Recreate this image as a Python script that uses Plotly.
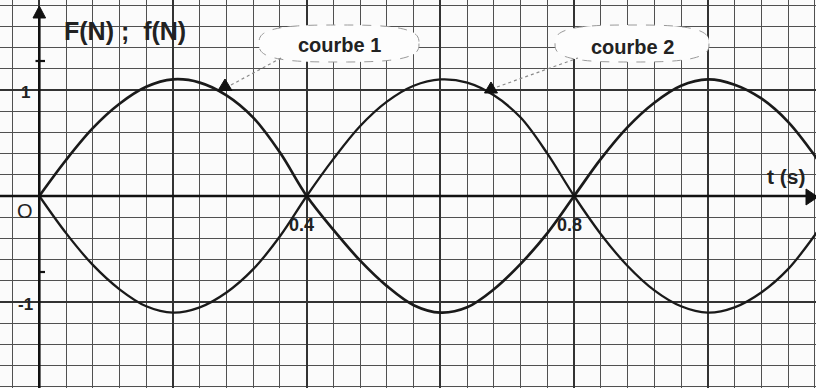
import math
import plotly.graph_objects as go

# ---- data ----
t_s = [0.00, 0.04, 0.08, 0.12, 0.16, 0.20, 0.24, 0.28, 0.32, 0.36, 0.40,
       0.44, 0.48, 0.52, 0.56, 0.60, 0.64, 0.68, 0.72, 0.76, 0.80,
       0.84, 0.88, 0.92, 0.96, 1.00, 1.04, 1.08, 1.12, 1.16, 1.20]
courbe1 = [0, 0.34, 0.64, 0.87, 1.03, 1.10, 1.07, 0.95, 0.74, 0.41, 0,
           -0.32, -0.61, -0.85, -1.03, -1.10, -1.05, -0.88, -0.64, -0.35, 0,
           0.35, 0.65, 0.88, 1.04, 1.10, 1.05, 0.92, 0.70, 0.38, 0]
courbe2 = [0, -0.35, -0.65, -0.88, -1.04, -1.10, -1.05, -0.91, -0.69, -0.38, 0,
           0.35, 0.66, 0.89, 1.04, 1.10, 1.07, 0.95, 0.74, 0.40, 0,
           -0.36, -0.66, -0.89, -1.04, -1.10, -1.05, -0.91, -0.69, -0.37, 0]
x_tick_labels = ["0.4", "0.8"]
x_tick_values = [0.4, 0.8]
y_tick_labels = ["1", "-1"]
y_tick_values = [1, -1]
series_names = ["courbe 1", "courbe 2"]

W, H = 816, 388
X_RANGE = [-0.0588, 1.1618]
Y_RANGE = [-1.811, 1.849]
INK = "#1a1a1a"
FONT = "Liberation Sans, Arial, sans-serif"


def px(x):
    return x / W


def py(y):
    return 1 - y / H


def poly_path(pts):
    return "M " + " L ".join(f"{px(a):.5f},{py(b):.5f}" for a, b in pts) + " Z"


def cloud_path(x0, x1, y0, y1, n=3.0, k=90):
    cx, cy, a, b = (x0 + x1) / 2, (y0 + y1) / 2, (x1 - x0) / 2, (y1 - y0) / 2
    pts = []
    for i in range(k):
        th = 2 * math.pi * i / k
        c, s = math.cos(th), math.sin(th)
        pts.append((cx + a * math.copysign(abs(c) ** (2 / n), c),
                    cy + b * math.copysign(abs(s) ** (2 / n), s)))
    return poly_path(pts)


fig = go.Figure()

fig.add_trace(go.Scatter(x=t_s, y=courbe2, mode="lines", name=series_names[1],
                         line=dict(color=INK, width=2.3, shape="spline", smoothing=1.0),
                         hoverinfo="skip"))
fig.add_trace(go.Scatter(x=t_s, y=courbe1, mode="lines", name=series_names[0],
                         line=dict(color=INK, width=2.7, shape="spline", smoothing=1.0),
                         hoverinfo="skip"))

shapes = []
# axes
shapes.append(dict(type="line", xref="x", yref="paper", x0=0, x1=0, y0=0, y1=py(16),
                   line=dict(color="#111", width=2.6), layer="above"))
shapes.append(dict(type="line", xref="paper", yref="y", x0=0, x1=px(809), y0=0, y1=0,
                   line=dict(color="#111", width=2.6), layer="above"))
# arrow heads
shapes.append(dict(type="path", xref="paper", yref="paper",
                   path=poly_path([(33, 18), (39.3, 6), (45.6, 18)]),
                   fillcolor="#111", line=dict(color="#111", width=1), layer="above"))
shapes.append(dict(type="path", xref="paper", yref="paper",
                   path=poly_path([(806, 189), (818, 197), (806, 205)]),
                   fillcolor="#111", line=dict(color="#111", width=1), layer="above"))
# small ticks on the vertical axis
shapes.append(dict(type="line", xref="paper", yref="paper", x0=px(35.5), x1=px(45), y0=py(61), y1=py(61),
                   line=dict(color="#111", width=2.2), layer="above"))
shapes.append(dict(type="line", xref="paper", yref="paper", x0=px(38), x1=px(45), y0=py(272), y1=py(272),
                   line=dict(color="#111", width=2.2), layer="above"))
# callout clouds
shapes.append(dict(type="path", xref="paper", yref="paper", path=cloud_path(259, 419, 25, 62),
                   fillcolor="#fdfdfd", line=dict(color="#9a9a9a", width=1, dash="dash"), layer="above"))
shapes.append(dict(type="path", xref="paper", yref="paper", path=cloud_path(555, 709, 25, 62),
                   fillcolor="#fdfdfd", line=dict(color="#9a9a9a", width=1, dash="dash"), layer="above"))
# dashed leader lines
shapes.append(dict(type="line", xref="paper", yref="paper", x0=px(231), y0=py(85), x1=px(283), y1=py(57),
                   line=dict(color="#8a8a8a", width=1.2, dash="dot"), layer="above"))
shapes.append(dict(type="line", xref="paper", yref="paper", x0=px(497), y0=py(87), x1=px(578), y1=py(58),
                   line=dict(color="#8a8a8a", width=1.2, dash="dot"), layer="above"))
# arrow-head triangles on the curves
shapes.append(dict(type="path", xref="paper", yref="paper",
                   path=poly_path([(218, 90.5), (225, 79), (232, 90.5)]),
                   fillcolor="#111", line=dict(color="#111", width=1), layer="above"))
shapes.append(dict(type="path", xref="paper", yref="paper",
                   path=poly_path([(484.5, 93), (491, 82), (497.5, 93)]),
                   fillcolor="#111", line=dict(color="#111", width=1), layer="above"))

ann = []


def label(text, x, y, size, bold=True, xanchor="center"):
    ann.append(dict(text=f"<b>{text}</b>" if bold else text, xref="paper", yref="paper",
                    x=px(x), y=py(y), xanchor=xanchor, yanchor="middle", showarrow=False,
                    font=dict(family=FONT, size=size, color="#222")))


label("F(N) ;&nbsp; f(N)", 62, 31, 25, xanchor="left")
label(series_names[0], 339, 45, 20)
label(series_names[1], 632, 47, 20)
label("t (s)", 786, 177, 21)
label("O", 25, 211, 20, bold=False)
# value labels on the axes, positioned through the axes' scales
for txt, v in zip(x_tick_labels, x_tick_values):
    ann.append(dict(text=f"<b>{txt}</b>", xref="x", yref="y", x=v, y=0, xshift=-5, yshift=-29,
                    xanchor="center", yanchor="middle", showarrow=False,
                    font=dict(family=FONT, size=18, color="#222")))
for txt, v in zip(y_tick_labels, y_tick_values):
    ann.append(dict(text=f"<b>{txt}</b>", xref="x", yref="y", x=0, y=v, xshift=-14, yshift=-2,
                    xanchor="center", yanchor="middle", showarrow=False,
                    font=dict(family=FONT, size=17, color="#222")))

fig.update_layout(
    width=W, height=H,
    margin=dict(l=0, r=0, t=0, b=0, pad=0),
    paper_bgcolor="#fbfbfb", plot_bgcolor="#fbfbfb",
    showlegend=False,
    shapes=shapes, annotations=ann,
    xaxis=dict(range=X_RANGE, tick0=0, dtick=0.2, showgrid=True, gridcolor="#333333", gridwidth=1.8,
               minor=dict(tick0=0, dtick=0.04, showgrid=True, gridcolor="#505050", gridwidth=1.3),
               showticklabels=False, ticks="", zeroline=False, showline=False, fixedrange=True),
    yaxis=dict(range=Y_RANGE, tick0=0, dtick=1, showgrid=True, gridcolor="#333333", gridwidth=1.8,
               minor=dict(tick0=0, dtick=0.2, showgrid=True, gridcolor="#505050", gridwidth=1.3),
               showticklabels=False, ticks="", zeroline=False, showline=False, fixedrange=True),
)

fig.write_html("out.html", config={"displayModeBar": False},
               post_script="document.body.style.margin='0';document.body.style.overflow='hidden';")
